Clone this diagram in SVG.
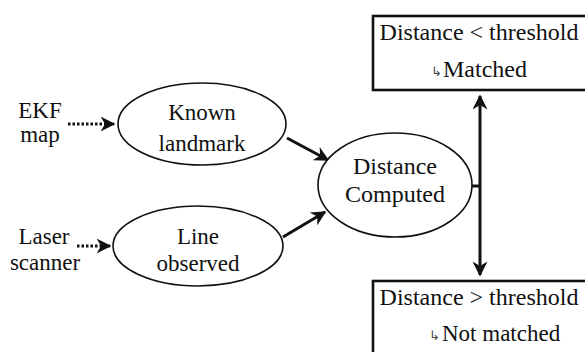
<svg xmlns="http://www.w3.org/2000/svg" width="585" height="352" viewBox="0 0 585 352">
  <style>
    .lbl { font-family: Liberation Serif, serif; font-size: 23px; fill: #111; text-anchor: middle; }
    .big { font-size: 24px; }
    .start { text-anchor: start; }
    .turn { font-family: DejaVu Sans, sans-serif; font-size: 13px; fill: #444; }
    .node { fill: #fff; stroke: #111; stroke-width: 1.6; }
    .box { fill: #fff; stroke: #111; stroke-width: 2.6; }
    .bold { fill: none; stroke: #111; stroke-width: 3; }
    .dot { fill: none; stroke: #111; stroke-width: 3; stroke-dasharray: 2.5 2; }
  </style>
  <defs>
    <marker id="head" viewBox="0 0 10 10" refX="9" refY="5" markerWidth="5" markerHeight="5" orient="auto-start-reverse" markerUnits="strokeWidth">
      <path d="M0,0 L10,5 L0,10 L3,5 Z" fill="#111"/>
    </marker>
  </defs>
  <rect width="585" height="352" fill="#fff"/>

  <g id="connectors">
    <path class="dot" d="M68,124 L114,124" marker-end="url(#head)"/>
    <path class="dot" d="M77,246 L110,246" marker-end="url(#head)"/>
    <path class="bold" d="M287,138 L328,160" marker-end="url(#head)"/>
    <path class="bold" d="M283,237 L325,212" marker-end="url(#head)"/>
    <path class="bold" d="M472,186 L480,186"/>
    <path class="bold" d="M480,96 L480,275" marker-start="url(#head)" marker-end="url(#head)"/>
  </g>

  <g font-family="Liberation Serif" font-size="23">
    <g id="ekf-map">
      <text class="lbl" x="40" y="118">EKF</text>
      <text class="lbl" x="40" y="142">map</text>
    </g>

    <g id="laser-scanner">
      <text class="lbl" x="44" y="244">Laser</text>
      <text class="lbl" x="45" y="270">scanner</text>
    </g>

    <g id="known-landmark">
      <ellipse class="node" cx="202" cy="124" rx="84" ry="41"/>
      <text class="lbl" x="202" y="120">Known</text>
      <text class="lbl" x="202" y="151">landmark</text>
    </g>

    <g id="line-observed">
      <ellipse class="node" cx="198" cy="246" rx="85" ry="40"/>
      <text class="lbl" x="198" y="244">Line</text>
      <text class="lbl" x="198" y="271">observed</text>
    </g>

    <g id="distance-computed">
      <ellipse class="node" cx="395" cy="185" rx="77" ry="52"/>
      <text class="lbl big" x="395" y="174">Distance</text>
      <text class="lbl big" x="395" y="202">Computed</text>
    </g>

    <g id="matched">
      <rect class="box" x="373" y="16" width="216" height="74"/>
      <text class="lbl big" x="479" y="40">Distance &lt; threshold</text>
      <text class="turn" x="431" y="76">↳</text>
      <text class="lbl big" x="485" y="77">Matched</text>
    </g>

    <g id="not-matched">
      <rect class="box" x="373" y="281" width="216" height="80"/>
      <text class="lbl big" x="479" y="305">Distance &gt; threshold</text>
      <text class="turn" x="429" y="340">↳</text>
      <text class="lbl start" x="442" y="341">Not matched</text>
    </g>
  </g>
</svg>
